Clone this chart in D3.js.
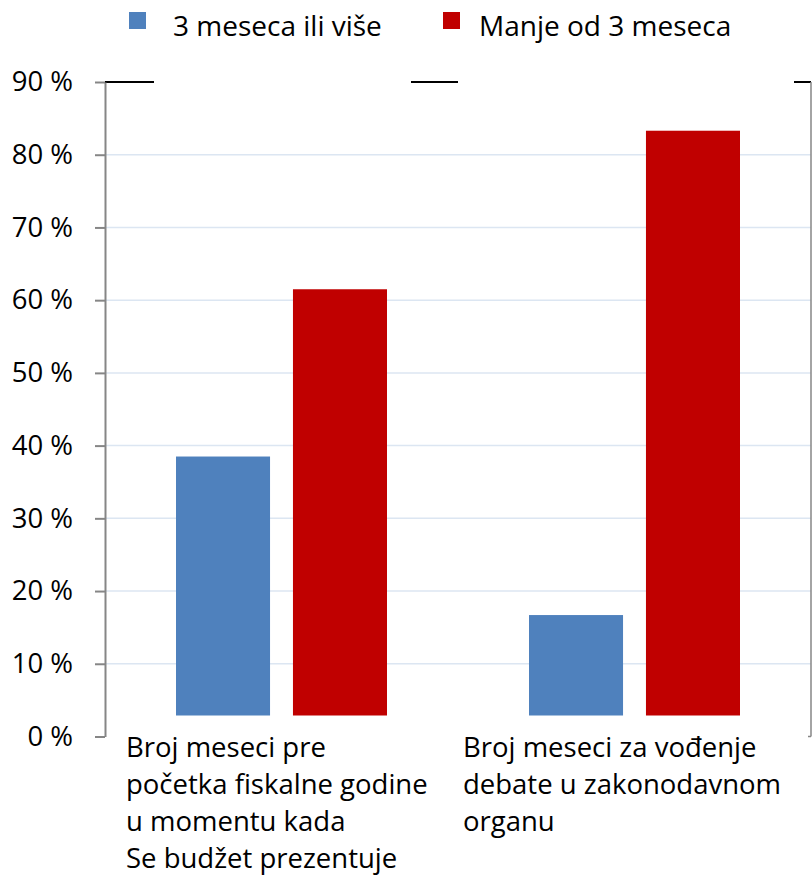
<!DOCTYPE html>
<html>
<head>
<meta charset="utf-8">
<script src="https://cdn.jsdelivr.net/npm/d3@7"></script>
<style>
  html, body { margin: 0; padding: 0; background: #fff; }
  svg { display: block; font-family: "Open Sans", "Noto Sans", sans-serif; }
</style>
</head>
<body>
<svg id="chart" width="812" height="876"></svg>
<script>
const categories = ["c1", "c2"];
const categoryLabels = [
  ["Broj meseci pre", "početka fiskalne godine", "u momentu kada", "Se budžet prezentuje"],
  ["Broj meseci za vođenje", "debate u zakonodavnom", "organu"]
];
const seriesNames = ["3 meseca ili više", "Manje od 3 meseca"];
const seriesColors = ["#4f81bd", "#c00000"];
const values3OrMore = [38.5, 16.7];
const valuesLessThan3 = [61.5, 83.3];
const yTicks = [0, 10, 20, 30, 40, 50, 60, 70, 80, 90];

(function () {
const svg = d3.select("#chart");
const pLeft = 105, pRight = 811, pTop = 82, pBottom = 736.5;
const fontSize = "27.5px";

const y = d3.scaleLinear().domain([0, 90]).range([pBottom, pTop]);
const x = d3.scaleBand().domain(categories).range([pLeft, pRight]).paddingInner(0).paddingOuter(0);
const inner = d3.scaleBand().domain([0, 1]).range([71, x.bandwidth() - 71]).paddingInner(0.196);

// gridlines
svg.append("g").selectAll("line").data(yTicks.filter(t => t > 0 && t < 90)).join("line")
  .attr("x1", pLeft).attr("x2", pRight)
  .attr("y1", d => y(d)).attr("y2", d => y(d))
  .attr("stroke", "#dce6f2").attr("stroke-width", 1.5);

// top black segments
const segs = [[0, 49], [306, 353], [689, 706]];
svg.append("g").selectAll("line").data(segs).join("line")
  .attr("x1", d => pLeft + d[0]).attr("x2", d => pLeft + d[1])
  .attr("y1", y(90)).attr("y2", y(90))
  .attr("stroke", "#000").attr("stroke-width", 2);

// bars
const barBase = y(0) - 21;
const series = [values3OrMore, valuesLessThan3];
series.forEach((vals, si) => {
  svg.append("g").selectAll("rect").data(vals).join("rect")
    .attr("x", (d, i) => x(categories[i]) + inner(si))
    .attr("width", inner.bandwidth())
    .attr("y", d => y(d))
    .attr("height", d => barBase - y(d))
    .attr("fill", seriesColors[si]);
});

// left axis
const axis = d3.axisLeft(y).tickValues(yTicks).tickSize(10).tickSizeOuter(0).tickPadding(22)
  .tickFormat(d => d + " %");
const gA = svg.append("g").attr("transform", `translate(${pLeft},0)`).call(axis);
gA.select(".domain").attr("stroke", "#868686").attr("stroke-width", 2);
gA.selectAll(".tick line").attr("stroke", "#868686").attr("stroke-width", 2);
gA.selectAll(".tick text").attr("fill", "#000").style("font-size", fontSize)
  .style("font-family", "'Open Sans', sans-serif");

// right axis line
svg.append("line").attr("x1", pRight).attr("x2", pRight).attr("y1", y(90)).attr("y2", y(0))
  .attr("stroke", "#868686").attr("stroke-width", 1.5);
svg.append("line").attr("x1", pRight - 3).attr("x2", pRight).attr("y1", y(0)).attr("y2", y(0))
  .attr("stroke", "#868686").attr("stroke-width", 1.5);

// category labels
const labelOffsets = [21, 5];
categories.forEach((c, i) => {
  const t = svg.append("text").attr("x", x(c) + labelOffsets[i]).attr("y", 757)
    .attr("fill", "#000").style("font-size", fontSize);
  categoryLabels[i].forEach((line, j) => {
    t.append("tspan").attr("x", x(c) + labelOffsets[i]).attr("dy", j === 0 ? 0 : 37).text(line);
  });
});

// legend
const legendX = [129, 443];
seriesNames.forEach((n, i) => {
  svg.append("rect").attr("x", legendX[i]).attr("y", 12).attr("width", 17).attr("height", 17)
    .attr("fill", seriesColors[i]);
  svg.append("text").attr("x", legendX[i] + [44, 36][i]).attr("y", 36).attr("fill", "#000")
    .style("font-size", "28px").text(n);
});
})();
</script>
</body>
</html>
